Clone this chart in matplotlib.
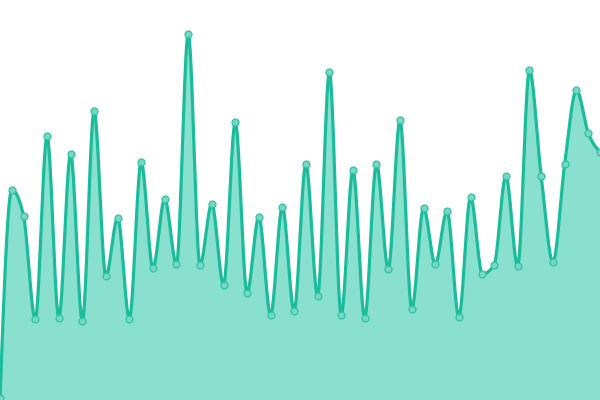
import numpy as np
import matplotlib
matplotlib.use('Agg')
import matplotlib.pyplot as plt

# values (0 = bottom edge, 400 = top edge)
werte = [2, 210, 184, 81, 264, 82, 246, 79, 289, 124,
         182, 81, 238, 132, 201, 136, 366, 135, 196, 115,
         278, 107, 183, 85, 193, 89, 236, 104, 328, 85,
         230, 82, 236, 131, 280, 91, 192, 136, 189, 83,
         203, 126, 135, 224, 134, 330, 224, 138, 236, 310,
         267, 248]
xs = list(range(len(werte)))


def monotone_kurve(x, y, n=30):
    # monotone cubic like d3.curveMonotoneX
    x = np.asarray(x, float)
    y = np.asarray(y, float)
    h = np.diff(x)
    s = np.diff(y) / h
    t = np.zeros(len(y))
    for i in range(1, len(y) - 1):
        s0, s1 = s[i - 1], s[i]
        p = (s0 * h[i] + s1 * h[i - 1]) / (h[i - 1] + h[i])
        t[i] = (np.sign(s0) + np.sign(s1)) * min(abs(s0), abs(s1), 0.5 * abs(p))
    t[0] = (3 * s[0] - t[1]) / 2
    t[-1] = (3 * s[-1] - t[-2]) / 2
    px, py = [], []
    u = np.linspace(0, 1, n)
    for i in range(len(y) - 1):
        dx = h[i] / 3
        p0 = (x[i], y[i])
        p1 = (x[i] + dx, y[i] + dx * t[i])
        p2 = (x[i + 1] - dx, y[i + 1] - dx * t[i + 1])
        p3 = (x[i + 1], y[i + 1])
        bx = ((1 - u) ** 3 * p0[0] + 3 * (1 - u) ** 2 * u * p1[0]
              + 3 * (1 - u) * u ** 2 * p2[0] + u ** 3 * p3[0])
        by = ((1 - u) ** 3 * p0[1] + 3 * (1 - u) ** 2 * u * p1[1]
              + 3 * (1 - u) * u ** 2 * p2[1] + u ** 3 * p3[1])
        px.extend(bx)
        py.extend(by)
    return np.array(px), np.array(py)


kx, ky = monotone_kurve(xs, werte)

fig = plt.figure(figsize=(6, 4), dpi=100)
ax = fig.add_axes([0, 0, 1, 1])
ax.fill_between(kx, ky, 0, color='#8ae0cf', lw=0)
ax.plot(kx, ky, color='#1abc9c', lw=2.3, solid_capstyle='round')
ax.plot(xs, werte, 'o', ms=5, mfc='#74d8c2', mec='#30c4a4', mew=0.9)
ax.set_xlim(0, len(werte) - 1)
ax.set_ylim(0, 400)
ax.axis('off')
fig.savefig('out.png', dpi=100)
